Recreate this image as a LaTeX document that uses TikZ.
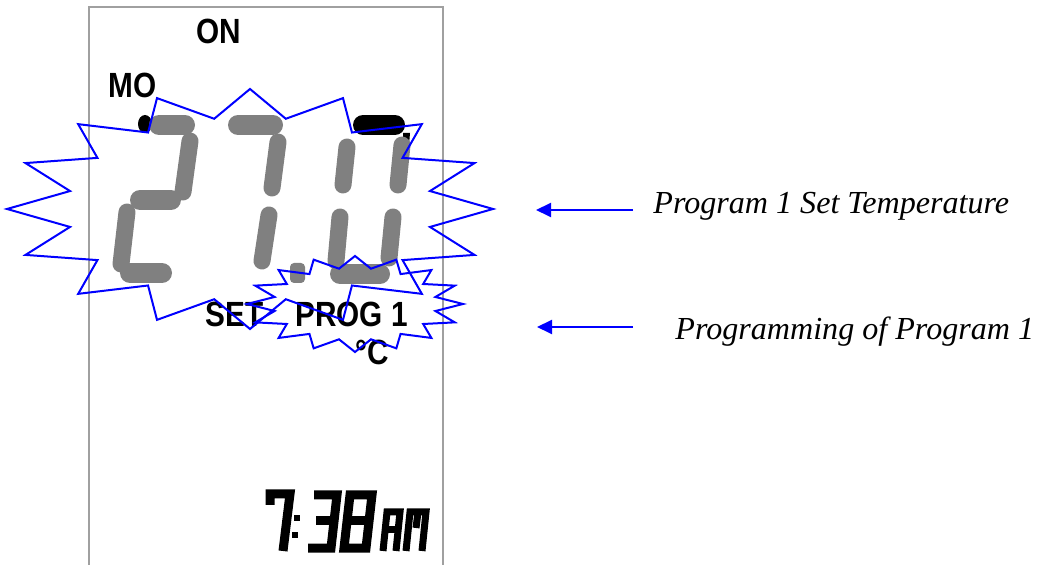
\documentclass[tikz,border=0pt]{standalone}
\usepackage{fontspec}
\setmainfont{Liberation Serif}
\newfontfamily\lcdfont[FakeStretch=0.85]{Liberation Sans}
\usetikzlibrary{arrows.meta}
\definecolor{segray}{RGB}{128,128,128}
\definecolor{burstblue}{RGB}{0,0,255}
\definecolor{framegray}{RGB}{160,160,160}
\begin{document}
\begin{tikzpicture}[x=0.5pt,y=-0.5pt,
  burst/.style={draw=burstblue, line width=1pt, line join=miter},
  hseg/.style={draw=segray, line width=10pt, line cap=round},
  vseg/.style={draw=segray, line width=8.5pt, line cap=round},
  clk/.style={draw=black, line width=4.5pt, line join=miter, line cap=butt},
  clks/.style={draw=black, line width=3.5pt, line join=miter, line cap=butt},
  lcdtext/.style={inner sep=0pt, anchor=base west, font=\lcdfont\bfseries\fontsize{17.5}{20}\selectfont},
  label/.style={inner sep=0pt, anchor=base west, font=\itshape\fontsize{16.05}{19}\selectfont},
  pointer/.style={draw=burstblue, line width=1pt, -{Triangle[length=7.5pt,width=7pt]}}
]
\path[use as bounding box] (0,0) rectangle (1037,565);
% LCD frame
\draw[framegray, line width=1pt] (89,566) -- (89,7) -- (443,7) -- (443,566);

% LCD texts
\node[lcdtext] (on) at (196,44) {ON};
\node[lcdtext] (mo) at (108,98) {MO};
\node[lcdtext] (set) at (205,327) {SET};
\node[lcdtext] (prog) at (295,327) {PROG 1};
\node[lcdtext] (degc) at (355,365) {°C};

% big digits "2"
\fill[black] (145,124) ellipse [x radius=7, y radius=9];
\draw[hseg] (159,125) -- (185,125);
\draw[vseg] (190,141) -- (183,192);
\draw[hseg] (140,200) -- (171,200);
\draw[vseg] (127,212) -- (121,264);
\draw[hseg] (130,273) -- (162,273);
% "7"
\draw[hseg] (238,125) -- (273,125);
\draw[vseg] (278,142) -- (272,188);
\draw[vseg] (269,215) -- (262,261);
% "."
\fill[segray, rounded corners=2] (290,263) rectangle (305,283);
% "0"
\draw[hseg, draw=black] (363,125) -- (395,125);
\fill[black] (403,133) -- (410,133) -- (408,157) -- (404,157) -- cycle;
\draw[vseg] (347,147) -- (343,185);
\draw[vseg] (340,217) -- (336,261);
\draw[vseg] (402,145) -- (398,185);
\draw[vseg] (393,217) -- (389,258);
\draw[hseg] (340,274) -- (380,274);

% clock 7:38AM
\draw[clk] (270,505) -- (270,494) -- (290,494) -- (283,551);
\fill[black] (294,515) rectangle (300,521);
\fill[black] (292,532) rectangle (298,538);
\draw[clk] (314,495) -- (337,495) -- (331,548) -- (308,548);
\draw[clk] (316,521) -- (334,521);
\draw[clk] (350,495) -- (372,495) -- (366,548) -- (344,548) -- cycle;
\draw[clk] (347,521) -- (369,521);
\draw[clks] (383,551) -- (387,512) -- (400,512) -- (396,551);
\draw[clks] (385,530) -- (398,530);
\draw[clks] (406,551) -- (410,512) -- (426,512) -- (422,551);
\draw[clks] (418,512) -- (416,528);

% starbursts
\draw[burst] plot[samples at={0,...,31}, variable=\k]
  ({250+(213.25+29.75*cos(180*\k))*cos(11.25*\k)}, {209+(106+14*cos(180*\k))*sin(11.25*\k)}) -- cycle;
\draw[burst] plot[samples at={0,...,31}, variable=\k]
  ({355+(95+13*cos(180*\k))*cos(11.25*\k)}, {304+(42+6*cos(180*\k))*sin(11.25*\k)}) -- cycle;

% labels and pointers
\node[label] (t1) at (653,214) {Program 1 Set Temperature};
\node[label] (t2) at (675,340) {Programming of Program 1};
\coordinate (a1s) at (633,210);
\coordinate (a1e) at (536,210);
\coordinate (a2s) at (633,327);
\coordinate (a2e) at (537,327);
\draw[pointer] (a1s) -- (a1e);
\draw[pointer] (a2s) -- (a2e);
\end{tikzpicture}
\end{document}
